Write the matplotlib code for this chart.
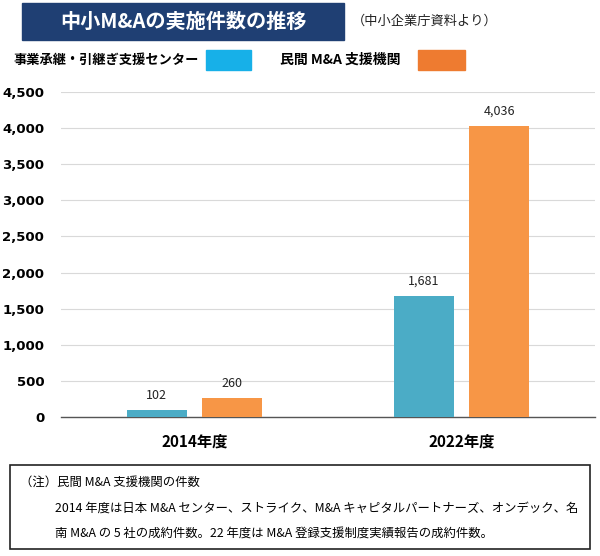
import matplotlib.pyplot as plt
from matplotlib.patches import Rectangle

plt.rcParams['font.family'] = ['Noto Sans CJK JP', 'DejaVu Sans']

# データ
years = ['2014年度', '2022年度']
center = [102, 1681]      # 事業承継・引継ぎ支援センター
private = [260, 4036]     # 民間 M&A 支援機関
yticks = [0, 500, 1000, 1500, 2000, 2500, 3000, 3500, 4000, 4500]

c_blue = '#4bacc6'
c_orange = '#f79646'

fig = plt.figure(figsize=(6, 5.56), dpi=100)
W, H = 600, 556

def fx(px):
    return px / W

def fy(py):
    return 1 - py / H

ax = fig.add_axes([fx(61), fy(417), fx(595) - fx(61), fy(92) - fy(417)])

x = [0, 1]
w = 0.225
off = 0.142
b1 = ax.bar([i - off for i in x], center, width=w, color=c_blue, zorder=3)
b2 = ax.bar([i + off for i in x], private, width=w, color=c_orange, zorder=3)

for bars, vals in [(b1, center), (b2, private)]:
    for b, v in zip(bars, vals):
        ax.text(b.get_x() + b.get_width() / 2, v + 110, f'{v:,}',
                ha='center', va='bottom', fontsize=9, color='#222222')

ax.set_xlim(-0.5, 1.5)
ax.set_ylim(0, 4500)
ax.set_yticks(yticks)
ax.set_yticklabels([f'{t:,}' for t in yticks], fontsize=9.5, fontweight='bold',
                   family='DejaVu Sans')
ax.set_xticks(x)
ax.set_xticklabels(years, fontsize=11, fontweight='bold')
ax.tick_params(axis='both', length=0)
ax.tick_params(axis='y', pad=12)
ax.tick_params(axis='x', pad=12)
ax.grid(axis='y', color='#d9d9d9', linewidth=0.8, zorder=0)
for s in ['top', 'right', 'left']:
    ax.spines[s].set_visible(False)
ax.spines['bottom'].set_color('#555555')
ax.spines['bottom'].set_linewidth(1.0)

# タイトル枠
fig.patches.append(Rectangle((fx(22), fy(40)), fx(344) - fx(22), fy(3) - fy(40),
                             transform=fig.transFigure, color='#1f3f73'))
fig.text(fx(183), fy(21), '中小M&Aの実施件数の推移', color='white',
         fontsize=14.5, fontweight='bold', ha='center', va='center')
fig.text(fx(352), fy(21), '（中小企業庁資料より）', fontsize=9.5,
         ha='left', va='center', color='#222222')

# 凡例
fig.text(fx(14), fy(60), '事業承継・引継ぎ支援センター', fontsize=9.5,
         fontweight='bold', ha='left', va='center')
fig.patches.append(Rectangle((fx(206), fy(70)), fx(45), fy(50) - fy(70),
                             transform=fig.transFigure, color='#17b0e8'))
fig.text(fx(280), fy(60), '民間 M&A 支援機関', fontsize=10,
         fontweight='bold', ha='left', va='center')
fig.patches.append(Rectangle((fx(418), fy(70)), fx(47), fy(50) - fy(70),
                             transform=fig.transFigure, color='#ee7b30'))

# 注記枠
fig.patches.append(Rectangle((fx(10), fy(549)), fx(580), fy(465) - fy(549),
                             transform=fig.transFigure, fill=False,
                             edgecolor='#222222', linewidth=1.2))
fig.text(fx(20), fy(482), '（注）民間 M&A 支援機関の件数', fontsize=8.9,
         ha='left', va='center')
fig.text(fx(55), fy(508),
         '2014 年度は日本 M&A センター、ストライク、M&A キャピタルパートナーズ、オンデック、名',
         fontsize=8.9, ha='left', va='center')
fig.text(fx(55), fy(533),
         '南 M&A の 5 社の成約件数。22 年度は M&A 登録支援制度実績報告の成約件数。',
         fontsize=8.9, ha='left', va='center')

fig.savefig('out.png', dpi=100)
